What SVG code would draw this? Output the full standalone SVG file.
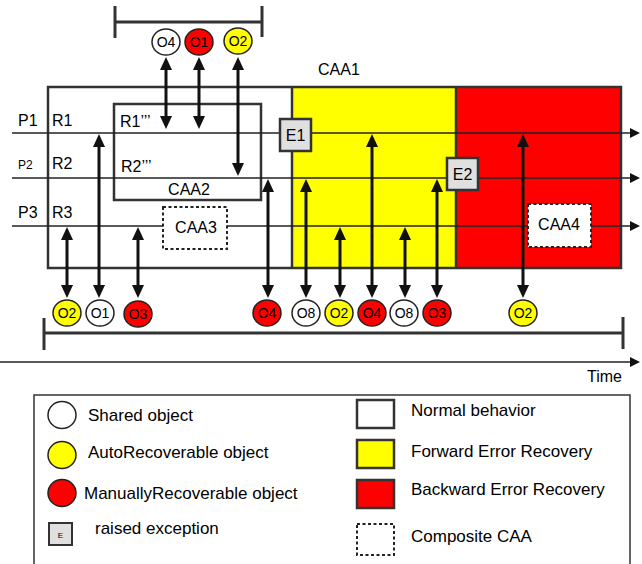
<svg xmlns="http://www.w3.org/2000/svg" width="642" height="564" viewBox="0 0 642 564">
<style>
text{font-family:"Liberation Sans",Arial,sans-serif;fill:#000}
.lbl{font-size:16px}
.obj{font-size:14px;text-anchor:middle}
.leg{font-size:17px}
.frame{fill:none;stroke:#333;stroke-width:2.5}
.plin{stroke:#222;stroke-width:1.5;fill:none;marker-end:url(#pa)}
.arr{stroke:#111;stroke-width:3;fill:none;marker-start:url(#ah);marker-end:url(#ah)}
.br{stroke:#333;stroke-width:3;fill:none}
.circ{stroke:#222;stroke-width:1.5}
.w{fill:#fff}.y{fill:#ffff00}.r{fill:#ff0000}
.exc{fill:#e0e0e0;stroke:#333;stroke-width:2.5}
.dash{fill:#fff;stroke:#222;stroke-width:2;stroke-dasharray:3,2.5}
</style>
<defs>
<marker id="ah" markerUnits="userSpaceOnUse" viewBox="0 0 13 13" markerWidth="13" markerHeight="13" refX="3" refY="6.5" orient="auto-start-reverse"><path d="M0,0.5 L13,6.5 L0,12.5 z" fill="#111"/></marker>
<marker id="pa" markerUnits="userSpaceOnUse" viewBox="0 0 10 10" markerWidth="10" markerHeight="10" refX="1" refY="5" orient="auto"><path d="M0,0 L10,5 L0,10 z" fill="#111"/></marker>
</defs>

<!-- brackets and time axis -->
<g id="top-bracket">
<line class="br" x1="115" y1="22" x2="262" y2="22"/>
<line class="br" x1="115" y1="6" x2="115" y2="38"/>
<line class="br" x1="262" y1="6" x2="262" y2="37"/>
</g>
<g id="bottom-bracket">
<line class="br" x1="44" y1="333" x2="623" y2="333"/>
<line class="br" x1="44" y1="318" x2="44" y2="350"/>
<line class="br" x1="623" y1="317" x2="623" y2="349"/>
</g>
<g id="time-axis">
<line class="plin" x1="0" y1="362" x2="631" y2="362"/>
<text class="lbl" x="587" y="382">Time</text>
</g>

<!-- CAA1 -->
<g id="CAA1">
<rect x="292" y="87" width="164" height="181" class="y"/>
<rect x="456" y="87" width="165" height="181" class="r"/>
<rect x="48" y="87" width="573" height="181" class="frame"/>
<line x1="292" y1="87" x2="292" y2="268" stroke="#333" stroke-width="2.5"/>
<line x1="456" y1="87" x2="456" y2="268" stroke="#333" stroke-width="2.5"/>
<text class="lbl" x="318" y="75">CAA1</text>
</g>

<g id="CAA2">
<rect x="114" y="104" width="147" height="96" class="frame"/>
<text class="lbl" x="189" y="195" text-anchor="middle">CAA2</text>
</g>

<!-- process lines -->
<g id="processes">
<line class="plin" x1="12" y1="133" x2="631" y2="133"/>
<line class="plin" x1="12" y1="178" x2="631" y2="178"/>
<line class="plin" x1="12" y1="226" x2="631" y2="226"/>
<text class="lbl" x="18" y="126">P1</text>
<text x="18" y="169" font-size="12">P2</text>
<text class="lbl" x="18" y="218">P3</text>
<text class="lbl" x="52" y="126">R1</text>
<text class="lbl" x="52" y="169">R2</text>
<text class="lbl" x="52" y="218">R3</text>
<text class="lbl" x="120" y="127">R1’’’</text>
<text class="lbl" x="121" y="172">R2’’’</text>
</g>

<g id="CAA3">
<rect x="163" y="207" width="64" height="42" class="dash"/>
<text class="lbl" x="196" y="233" text-anchor="middle">CAA3</text>
</g>
<g id="CAA4">
<rect x="528" y="204" width="63" height="43" class="dash"/>
<text class="lbl" x="559" y="230" text-anchor="middle">CAA4</text>
</g>

<g id="E1">
<rect x="280" y="119" width="31" height="32" class="exc"/>
<text class="lbl" x="295.5" y="141" text-anchor="middle">E1</text>
</g>
<g id="E2">
<rect x="447" y="158" width="31" height="32" class="exc"/>
<text class="lbl" x="462.5" y="180" text-anchor="middle">E2</text>
</g>

<!-- connectors -->
<g id="connectors">
<line class="arr" x1="166" y1="67" x2="166" y2="119"/>
<line class="arr" x1="199" y1="67" x2="199" y2="119"/>
<line class="arr" x1="238" y1="67" x2="238" y2="166"/>
<line class="arr" x1="67" y1="237" x2="67" y2="288"/>
<line class="arr" x1="99" y1="144" x2="99" y2="288"/>
<line class="arr" x1="138" y1="237" x2="138" y2="288"/>
<line class="arr" x1="268" y1="189" x2="268" y2="288"/>
<line class="arr" x1="306" y1="189" x2="306" y2="288"/>
<line class="arr" x1="340" y1="237" x2="340" y2="288"/>
<line class="arr" x1="372" y1="144" x2="372" y2="288"/>
<line class="arr" x1="405" y1="237" x2="405" y2="288"/>
<line class="arr" x1="437" y1="189" x2="437" y2="288"/>
<line class="arr" x1="523" y1="144" x2="523" y2="288"/>
</g>

<!-- top objects -->
<g id="top-O4"><ellipse class="circ w" cx="166" cy="42" rx="14" ry="13"/><text class="obj" x="166" y="47">O4</text></g>
<g id="top-O1"><ellipse class="circ r" cx="199" cy="42" rx="14" ry="13"/><text class="obj" x="199" y="47">O1</text></g>
<g id="top-O2"><ellipse class="circ y" cx="238" cy="41" rx="14" ry="13"/><text class="obj" x="238" y="46">O2</text></g>

<!-- bottom objects -->
<g id="b-O2a"><ellipse class="circ y" cx="67" cy="313" rx="14" ry="13"/><text class="obj" x="67" y="318">O2</text></g>
<g id="b-O1"><ellipse class="circ w" cx="100" cy="313" rx="14" ry="13"/><text class="obj" x="100" y="318">O1</text></g>
<g id="b-O3a"><ellipse class="circ r" cx="138" cy="314" rx="14" ry="13"/><text class="obj" x="138" y="319">O3</text></g>
<g id="b-O4a"><ellipse class="circ r" cx="267" cy="313" rx="14" ry="13"/><text class="obj" x="267" y="318">O4</text></g>
<g id="b-O8a"><ellipse class="circ w" cx="306" cy="313" rx="14" ry="13"/><text class="obj" x="306" y="318">O8</text></g>
<g id="b-O2b"><ellipse class="circ y" cx="339" cy="313" rx="14" ry="13"/><text class="obj" x="339" y="318">O2</text></g>
<g id="b-O4b"><ellipse class="circ r" cx="372" cy="313" rx="14" ry="13"/><text class="obj" x="372" y="318">O4</text></g>
<g id="b-O8b"><ellipse class="circ w" cx="404" cy="313" rx="14" ry="13"/><text class="obj" x="404" y="318">O8</text></g>
<g id="b-O3b"><ellipse class="circ r" cx="437" cy="313" rx="14" ry="13"/><text class="obj" x="437" y="318">O3</text></g>
<g id="b-O2c"><ellipse class="circ y" cx="523" cy="313" rx="14" ry="13"/><text class="obj" x="523" y="318">O2</text></g>

<!-- legend -->
<g id="legend">
<path d="M34,570 V395 H630 V570" fill="none" stroke="#333" stroke-width="1.5"/>
<ellipse class="circ w" cx="62" cy="415" rx="14" ry="13.5"/>
<text class="leg" x="88" y="421">Shared object</text>
<ellipse class="circ y" cx="62" cy="455" rx="14" ry="13.5"/>
<text class="leg" x="88" y="458">AutoRecoverable object</text>
<ellipse class="circ r" cx="62" cy="493" rx="14" ry="13.5"/>
<text class="leg" x="84" y="499">ManuallyRecoverable object</text>
<rect x="49" y="523" width="23" height="22" fill="#e0e0e0" stroke="#333" stroke-width="2"/>
<text x="60.5" y="538" font-size="8" text-anchor="middle">E</text>
<text class="leg" x="95" y="534">raised exception</text>
<rect x="357" y="400" width="37" height="28" fill="#fff" stroke="#333" stroke-width="2.5"/>
<text class="leg" x="411" y="416">Normal behavior</text>
<rect x="357" y="440" width="37" height="28" fill="#ffff00" stroke="#333" stroke-width="2.5"/>
<text class="leg" x="411" y="457">Forward Error Recovery</text>
<rect x="357" y="480" width="37" height="28" fill="#ff0000" stroke="#333" stroke-width="2.5"/>
<text class="leg" x="411" y="495">Backward Error Recovery</text>
<rect x="357" y="524" width="37" height="31" fill="none" stroke="#222" stroke-width="2" stroke-dasharray="3,2.5"/>
<text class="leg" x="411" y="542">Composite CAA</text>
</g>
</svg>
